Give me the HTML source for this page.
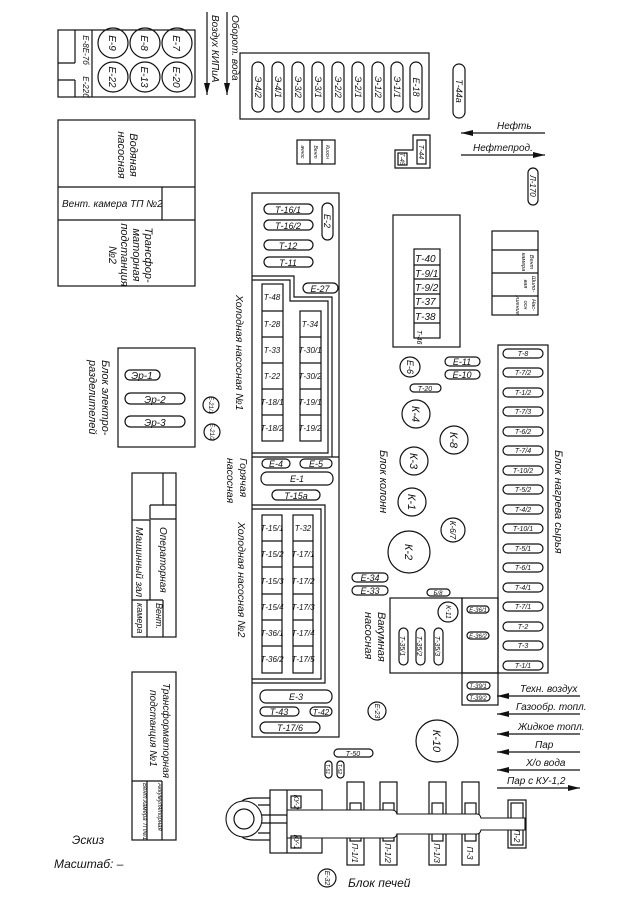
<!DOCTYPE html>
<html><head><meta charset="utf-8"><style>
html,body{margin:0;padding:0;background:#fff}
svg{display:block}
text{font-family:"Liberation Sans",sans-serif;font-style:italic;fill:#111}
.s{fill:none;stroke:#111;stroke-width:1.2}
.c{fill:#fff;stroke:#111;stroke-width:1.1}
</style></head><body>
<svg width="635" height="898" viewBox="0 0 635 898" xmlns="http://www.w3.org/2000/svg">
<defs><marker id="ah" markerWidth="12" markerHeight="6" refX="12" refY="3" orient="auto" markerUnits="userSpaceOnUse"><path d="M0,0 L12,3 L0,6 Z" fill="#111"/></marker></defs>

<rect class="s" x="58" y="30" width="137" height="67"/>
<line class="s" x1="75" y1="30" x2="75" y2="63"/><line class="s" x1="58" y1="63" x2="75" y2="63"/>
<line class="s" x1="75" y1="80" x2="75" y2="97"/><line class="s" x1="58" y1="80" x2="75" y2="80"/>
<line class="s" x1="92" y1="30" x2="92" y2="97"/>
<text font-size="8" transform="rotate(90 83 50)" x="83" y="50" text-anchor="middle">Е-8Е-7б</text>
<text font-size="8" transform="rotate(90 83 87)" x="83" y="87" text-anchor="middle">Е-22б</text>
<g font-size="10" text-anchor="middle">
<circle class="s" cx="113" cy="43" r="15"/><text transform="rotate(90 113 43)" x="113" y="47">Е-9</text>
<circle class="s" cx="145" cy="43" r="15"/><text transform="rotate(90 145 43)" x="145" y="47">Е-8</text>
<circle class="s" cx="177" cy="43" r="15"/><text transform="rotate(90 177 43)" x="177" y="47">Е-7</text>
<circle class="s" cx="113" cy="77" r="15"/><text transform="rotate(90 113 77)" x="113" y="81">Е-22</text>
<circle class="s" cx="145" cy="77" r="15"/><text transform="rotate(90 145 77)" x="145" y="81">Е-13</text>
<circle class="s" cx="177" cy="77" r="15"/><text transform="rotate(90 177 77)" x="177" y="81">Е-20</text>
</g>
<line class="s" x1="207" y1="12" x2="207" y2="95" marker-end="url(#ah)"/>
<line class="s" x1="227" y1="12" x2="227" y2="95" marker-end="url(#ah)"/>
<text font-size="10" transform="rotate(90 212 15)" x="212" y="15">Воздух КИПиА</text>
<text font-size="10" transform="rotate(90 232 15)" x="232" y="15">Оборот. вода</text>

<rect class="s" x="58" y="120" width="137" height="166"/>
<line class="s" x1="58" y1="187" x2="195" y2="187"/><line class="s" x1="58" y1="220" x2="195" y2="220"/>
<line class="s" x1="162" y1="187" x2="162" y2="220"/>
<text font-size="10" x="62" y="207">Вент. камера ТП №2</text>
<g font-size="11" text-anchor="middle">
<text transform="rotate(90 130 155)" x="130" y="155">Водяная</text>
<text transform="rotate(90 118 155)" x="118" y="155">насосная</text>
<text transform="rotate(90 145 255)" x="145" y="255">Трансфор-</text>
<text transform="rotate(90 133 255)" x="133" y="255">маторная</text>
<text transform="rotate(90 121 255)" x="121" y="255">подстанция</text>
<text transform="rotate(90 109 255)" x="109" y="255">№2</text>
</g>

<rect class="s" x="240" y="53" width="189" height="66"/>
<g font-size="9" text-anchor="middle">
<rect class="s" x="252" y="62" width="12" height="50" rx="6"/><text transform="rotate(90 258 87)" x="258" y="90">Э-4/2</text>
<rect class="s" x="272" y="62" width="12" height="50" rx="6"/><text transform="rotate(90 278 87)" x="278" y="90">Э-4/1</text>
<rect class="s" x="292" y="62" width="12" height="50" rx="6"/><text transform="rotate(90 298 87)" x="298" y="90">Э-3/2</text>
<rect class="s" x="312" y="62" width="12" height="50" rx="6"/><text transform="rotate(90 318 87)" x="318" y="90">Э-3/1</text>
<rect class="s" x="332" y="62" width="12" height="50" rx="6"/><text transform="rotate(90 338 87)" x="338" y="90">Э-2/2</text>
<rect class="s" x="352" y="62" width="12" height="50" rx="6"/><text transform="rotate(90 358 87)" x="358" y="90">Э-2/1</text>
<rect class="s" x="372" y="62" width="12" height="50" rx="6"/><text transform="rotate(90 378 87)" x="378" y="90">Э-1/2</text>
<rect class="s" x="391" y="62" width="12" height="50" rx="6"/><text transform="rotate(90 397 87)" x="397" y="90">Э-1/1</text>
<rect class="s" x="410" y="62" width="12" height="50" rx="6"/><text transform="rotate(90 416 87)" x="416" y="90">Е-18</text>
<rect class="s" x="453" y="64" width="12" height="54" rx="6"/><text transform="rotate(90 459 91)" x="459" y="94">Т-44а</text>
<rect class="s" x="528" y="168" width="10" height="37" rx="5"/><text font-size="8" transform="rotate(90 533 186)" x="533" y="189">Л-170</text>
</g>
<rect class="s" x="297" y="140" width="38" height="24"/>
<line class="s" x1="310" y1="140" x2="310" y2="164"/><line class="s" x1="322" y1="140" x2="322" y2="164"/>
<g font-size="5" text-anchor="middle">
<text transform="rotate(90 303 152)" x="303" y="154">ачнос</text>
<text transform="rotate(90 316 152)" x="316" y="154">Вент</text>
<text transform="rotate(90 328 152)" x="328" y="154">Киосн</text>
</g>
<path class="s" d="M413,135 H430 V168 H395 V150 H413 Z"/>
<rect class="s" x="417" y="140" width="9" height="24"/>
<rect class="s" x="398" y="153" width="9" height="12"/>
<text font-size="7" transform="rotate(90 421 152)" x="421" y="154" text-anchor="middle">Т-44</text>
<text font-size="6" transform="rotate(90 402 159)" x="402" y="161" text-anchor="middle">Т-45</text>
<line class="s" x1="545" y1="133" x2="461" y2="133" marker-end="url(#ah)"/>
<text font-size="10" x="497" y="129">Нефть</text>
<line class="s" x1="461" y1="155" x2="545" y2="155" marker-end="url(#ah)"/>
<text font-size="10" x="473" y="151">Нефтепрод.</text>

<rect class="s" x="252" y="193" width="87" height="544"/>
<g font-size="9" text-anchor="middle">
<rect class="s" x="264" y="204" width="49" height="10" rx="5"/><text x="288" y="213">Т-16/1</text>
<rect class="s" x="264" y="220" width="49" height="10" rx="5"/><text x="288" y="229">Т-16/2</text>
<rect class="s" x="264" y="240" width="49" height="10" rx="5"/><text x="288" y="249">Т-12</text>
<rect class="s" x="264" y="257" width="49" height="10" rx="5"/><text x="288" y="266">Т-11</text>
<rect class="s" x="322" y="203" width="11" height="37" rx="5.5"/><text transform="rotate(90 327 221)" x="327" y="224">Е-2</text>
<rect class="s" x="303" y="283" width="35" height="10" rx="5"/><text x="320" y="292">Е-27</text>
</g>
<path class="s" d="M252,276 H294 V297 H332 V457"/>
<path class="s" d="M252,280 H290 V301 H328 V453 H252"/>
<line class="s" x1="252" y1="457" x2="339" y2="457"/>
<g font-size="8" text-anchor="middle">
<rect class="s" x="262" y="284" width="21" height="157"/>
<line class="s" x1="262" y1="311" x2="283" y2="311"/><line class="s" x1="262" y1="337" x2="283" y2="337"/><line class="s" x1="262" y1="363" x2="283" y2="363"/><line class="s" x1="262" y1="389" x2="283" y2="389"/><line class="s" x1="262" y1="415" x2="283" y2="415"/>
<text x="272" y="300">Т-48</text><text x="272" y="327">Т-28</text><text x="272" y="353">Т-33</text><text x="272" y="379">Т-22</text><text x="272" y="405">Т-18/1</text><text x="272" y="431">Т-18/2</text>
<rect class="s" x="300" y="311" width="21" height="130"/>
<line class="s" x1="300" y1="337" x2="321" y2="337"/><line class="s" x1="300" y1="363" x2="321" y2="363"/><line class="s" x1="300" y1="389" x2="321" y2="389"/><line class="s" x1="300" y1="415" x2="321" y2="415"/>
<text x="310" y="327">Т-34</text><text x="310" y="353">Т-30/1</text><text x="310" y="379">Т-30/2</text><text x="310" y="405">Т-19/1</text><text x="310" y="431">Т-19/2</text>
</g>
<g font-size="9" text-anchor="middle">
<rect class="s" x="262" y="459" width="28" height="9" rx="4.5"/><text x="276" y="467">Е-4</text>
<rect class="s" x="300" y="459" width="32" height="9" rx="4.5"/><text x="316" y="467">Е-5</text>
<rect class="s" x="261" y="472" width="72" height="13" rx="6"/><text x="297" y="482">Е-1</text>
<rect class="s" x="272" y="490" width="48" height="10" rx="5"/><text x="296" y="499">Т-15а</text>
</g>
<path class="s" d="M252,505 H325 V683 H252"/>
<path class="s" d="M252,509 H321 V679 H252"/>
<g font-size="8" text-anchor="middle">
<rect class="s" x="262" y="515" width="20" height="158"/>
<rect class="s" x="293" y="515" width="20" height="158"/>
<line class="s" x1="262" y1="541" x2="282" y2="541"/><line class="s" x1="262" y1="567" x2="282" y2="567"/><line class="s" x1="262" y1="594" x2="282" y2="594"/><line class="s" x1="262" y1="620" x2="282" y2="620"/><line class="s" x1="262" y1="646" x2="282" y2="646"/>
<line class="s" x1="293" y1="541" x2="313" y2="541"/><line class="s" x1="293" y1="567" x2="313" y2="567"/><line class="s" x1="293" y1="594" x2="313" y2="594"/><line class="s" x1="293" y1="620" x2="313" y2="620"/><line class="s" x1="293" y1="646" x2="313" y2="646"/>
<text x="272" y="531">Т-15/1</text><text x="272" y="557">Т-15/2</text><text x="272" y="584">Т-15/3</text><text x="272" y="610">Т-15/4</text><text x="272" y="636">Т-36/1</text><text x="272" y="662">Т-36/2</text>
<text x="303" y="531">Т-32</text><text x="303" y="557">Т-17/1</text><text x="303" y="584">Т-17/2</text><text x="303" y="610">Т-17/3</text><text x="303" y="636">Т-17/4</text><text x="303" y="662">Т-17/5</text>
</g>
<g font-size="9" text-anchor="middle">
<rect class="s" x="260" y="690" width="72" height="13" rx="6"/><text x="296" y="700">Е-3</text>
<rect class="s" x="260" y="707" width="39" height="9" rx="4.5"/><text x="279" y="715">Т-43</text>
<rect class="s" x="310" y="707" width="22" height="9" rx="4.5"/><text x="321" y="715" font-size="8">Т-42</text>
<rect class="s" x="260" y="722" width="60" height="11" rx="5.5"/><text x="290" y="731">Т-17/6</text>
</g>
<g font-size="10.5">
<text transform="rotate(90 236 295)" x="236" y="295">Холодная насосная №1</text>
<text transform="rotate(90 240 458)" x="240" y="458">Горячая</text>
<text transform="rotate(90 227 458)" x="227" y="458">насосная</text>
<text transform="rotate(90 238 522)" x="238" y="522">Холодная насосная №2</text>
</g>

<rect class="s" x="393" y="215" width="67" height="132"/>
<rect class="s" x="414" y="249" width="26" height="89"/>
<line class="s" x1="414" y1="265" x2="440" y2="265"/><line class="s" x1="414" y1="279" x2="440" y2="279"/><line class="s" x1="414" y1="294" x2="440" y2="294"/><line class="s" x1="414" y1="308" x2="440" y2="308"/><line class="s" x1="414" y1="323" x2="440" y2="323"/>
<g font-size="10"><text x="415" y="262">Т-40</text><text x="415" y="277">Т-9/1</text><text x="415" y="291">Т-9/2</text><text x="415" y="305">Т-37</text><text x="415" y="320">Т-38</text></g>
<text font-size="7" transform="rotate(90 417 330)" x="417" y="330">Т-46</text>
<rect class="s" x="492" y="231" width="46" height="84"/>
<line class="s" x1="492" y1="250" x2="538" y2="250"/><line class="s" x1="492" y1="273" x2="538" y2="273"/><line class="s" x1="492" y1="296" x2="538" y2="296"/>
<g font-size="5.5" text-anchor="middle">
<text transform="rotate(90 530 262)" x="530" y="262">Вент</text><text transform="rotate(90 522 262)" x="522" y="262">камера</text>
<text transform="rotate(90 532 284)" x="532" y="284">Шило-</text><text transform="rotate(90 524 284)" x="524" y="284">вая</text>
<text transform="rotate(90 532 305)" x="532" y="305">Нас-</text><text transform="rotate(90 524 305)" x="524" y="305">осн</text><text transform="rotate(90 516 305)" x="516" y="305">ушение</text>
</g>

<g font-size="9" text-anchor="middle">
<circle class="s" cx="410" cy="367" r="10"/><text transform="rotate(90 410 367)" x="410" y="370">Е-6</text>
<rect class="s" x="445" y="357" width="35" height="9" rx="4.5"/><text x="462" y="365">Е-11</text>
<rect class="s" x="445" y="370" width="35" height="9" rx="4.5"/><text x="462" y="378">Е-10</text>
<rect class="s" x="410" y="384" width="31" height="8" rx="4"/><text x="425" y="391" font-size="7">Т-20</text>
</g>
<g font-size="11" text-anchor="middle">
<circle class="s" cx="416" cy="414" r="14"/><text transform="rotate(90 416 414)" x="416" y="418">К-4</text>
<circle class="s" cx="454" cy="440" r="14"/><text transform="rotate(90 454 440)" x="454" y="444">К-8</text>
<circle class="s" cx="414" cy="461" r="14"/><text transform="rotate(90 414 461)" x="414" y="465">К-3</text>
<circle class="s" cx="412" cy="502" r="14"/><text transform="rotate(90 412 502)" x="412" y="506">К-1</text>
<circle class="s" cx="409" cy="552" r="21"/><text transform="rotate(90 409 552)" x="409" y="556">К-2</text>
<circle class="s" cx="453" cy="530" r="12"/><text font-size="8" transform="rotate(90 453 530)" x="453" y="533">К-6/7</text>
</g>
<text font-size="11" transform="rotate(90 380 450)" x="380" y="450">Блок колонн</text>

<rect class="s" x="498" y="345" width="50" height="328"/>
<g font-size="7" text-anchor="middle">
<rect class="s" x="503" y="349" width="40" height="9" rx="4.5"/><text x="523" y="356">Т-8</text>
<rect class="s" x="503" y="368" width="40" height="9" rx="4.5"/><text x="523" y="375">Т-7/2</text>
<rect class="s" x="503" y="388" width="40" height="9" rx="4.5"/><text x="523" y="395">Т-1/2</text>
<rect class="s" x="503" y="407" width="40" height="9" rx="4.5"/><text x="523" y="414">Т-7/3</text>
<rect class="s" x="503" y="427" width="40" height="9" rx="4.5"/><text x="523" y="434">Т-6/2</text>
<rect class="s" x="503" y="446" width="40" height="9" rx="4.5"/><text x="523" y="453">Т-7/4</text>
<rect class="s" x="503" y="466" width="40" height="9" rx="4.5"/><text x="523" y="473">Т-10/2</text>
<rect class="s" x="503" y="485" width="40" height="9" rx="4.5"/><text x="523" y="492">Т-5/2</text>
<rect class="s" x="503" y="505" width="40" height="9" rx="4.5"/><text x="523" y="512">Т-4/2</text>
<rect class="s" x="503" y="524" width="40" height="9" rx="4.5"/><text x="523" y="531">Т-10/1</text>
<rect class="s" x="503" y="544" width="40" height="9" rx="4.5"/><text x="523" y="551">Т-5/1</text>
<rect class="s" x="503" y="563" width="40" height="9" rx="4.5"/><text x="523" y="570">Т-6/1</text>
<rect class="s" x="503" y="583" width="40" height="9" rx="4.5"/><text x="523" y="590">Т-4/1</text>
<rect class="s" x="503" y="602" width="40" height="9" rx="4.5"/><text x="523" y="609">Т-7/1</text>
<rect class="s" x="503" y="622" width="40" height="9" rx="4.5"/><text x="523" y="629">Т-2</text>
<rect class="s" x="503" y="641" width="40" height="9" rx="4.5"/><text x="523" y="648">Т-3</text>
<rect class="s" x="503" y="661" width="40" height="9" rx="4.5"/><text x="523" y="668">Т-1/1</text>
</g>
<text font-size="11" transform="rotate(90 555 450)" x="555" y="450">Блок нагрева сырья</text>

<g font-size="9" text-anchor="middle">
<rect class="s" x="352" y="573" width="36" height="9" rx="4.5"/><text x="370" y="581">Е-34</text>
<rect class="s" x="352" y="586" width="36" height="9" rx="4.5"/><text x="370" y="594">Е-33</text>
<rect class="s" x="427" y="589" width="23" height="7" rx="3.5"/><text x="438" y="595" font-size="6">Б/8</text>
</g>
<rect class="s" x="390" y="598" width="72" height="75"/>
<rect class="s" x="462" y="598" width="36" height="75"/>
<rect class="s" x="462" y="673" width="36" height="32"/>
<g font-size="7" text-anchor="middle">
<circle class="s" cx="448" cy="612" r="10"/><text transform="rotate(90 448 612)" x="448" y="614">К-11</text>
<rect class="s" x="467" y="606" width="22" height="7" rx="3.5"/><text x="478" y="612" font-size="6">Е-36/1</text>
<rect class="s" x="467" y="632" width="22" height="7" rx="3.5"/><text x="478" y="638" font-size="6">Е-36/2</text>
<rect class="s" x="467" y="682" width="23" height="7" rx="3.5"/><text x="478" y="688" font-size="6">Т-39/1</text>
<rect class="s" x="467" y="694" width="23" height="7" rx="3.5"/><text x="478" y="700" font-size="6">Т-39/2</text>
<rect class="s" x="399" y="628" width="9" height="37" rx="4.5"/><text transform="rotate(90 403 646)" x="403" y="649">Т-35/1</text>
<rect class="s" x="416" y="628" width="9" height="37" rx="4.5"/><text transform="rotate(90 420 646)" x="420" y="649">Т-35/2</text>
<rect class="s" x="434" y="628" width="9" height="37" rx="4.5"/><text transform="rotate(90 438 646)" x="438" y="649">Т-35/3</text>
</g>
<text font-size="11" transform="rotate(90 378 612)" x="378" y="612">Вакумная</text>
<text font-size="11" transform="rotate(90 365 612)" x="365" y="612">насосная</text>

<g font-size="10">
<line class="s" x1="580" y1="696" x2="497" y2="696" marker-end="url(#ah)"/><text x="520" y="692">Техн. воздух</text>
<line class="s" x1="580" y1="714" x2="497" y2="714" marker-end="url(#ah)"/><text x="516" y="710">Газообр. топл.</text>
<line class="s" x1="580" y1="734" x2="497" y2="734" marker-end="url(#ah)"/><text x="518" y="730">Жидкое топл.</text>
<line class="s" x1="580" y1="752" x2="497" y2="752" marker-end="url(#ah)"/><text x="535" y="748">Пар</text>
<line class="s" x1="580" y1="770" x2="497" y2="770" marker-end="url(#ah)"/><text x="526" y="766">Х/о вода</text>
<line class="s" x1="497" y1="788" x2="580" y2="788" marker-end="url(#ah)"/><text x="507" y="784">Пар с КУ-1,2</text>
</g>
<g font-size="9" text-anchor="middle">
<circle class="s" cx="377" cy="711" r="9"/><text font-size="7" transform="rotate(90 377 711)" x="377" y="713">Е-23</text>
<circle class="s" cx="437" cy="741" r="21"/><text font-size="11" transform="rotate(90 437 741)" x="437" y="745">К-10</text>
<rect class="s" x="334" y="749" width="39" height="8" rx="4"/><text x="353" y="756" font-size="7">Т-50</text>
<rect class="s" x="325" y="761" width="7" height="17" rx="3.5"/><text font-size="5" transform="rotate(90 328 769)" x="328" y="771">Т-51</text>
<rect class="s" x="337" y="761" width="7" height="17" rx="3.5"/><text font-size="5" transform="rotate(90 340 769)" x="340" y="771">Т-52</text>
</g>

<path class="s" d="M270,798 H254 Q240,798 240,806 M270,840 H254 Q240,840 240,832"/>
<path class="s" d="M270,805 H258 M270,833 H258"/>
<circle class="c" cx="244" cy="819" r="18"/><circle class="s" cx="244" cy="819" r="10"/>
<rect class="s" x="270" y="790" width="52" height="63"/>
<line class="s" x1="287" y1="790" x2="287" y2="853"/>
<line class="s" x1="262" y1="815" x2="287" y2="815"/><line class="s" x1="262" y1="823" x2="287" y2="823"/>
<rect class="s" x="347" y="782" width="17" height="83"/>
<rect class="s" x="380" y="782" width="17" height="83"/>
<rect class="s" x="429" y="782" width="17" height="83"/>
<rect class="s" x="462" y="782" width="17" height="83"/>
<rect class="s" x="508" y="800" width="18" height="48"/>
<rect class="s" x="511" y="803" width="12" height="42"/>
<rect class="s" x="350" y="803" width="11" height="38"/>
<rect class="s" x="383" y="803" width="11" height="38"/>
<rect class="s" x="432" y="803" width="11" height="38"/>
<rect class="s" x="465" y="803" width="11" height="38"/>
<path class="c" d="M287,810 H392 Q396,810 397,814 H477 Q480,814 481,818 H525 V830 H481 Q480,834 477,834 H397 Q396,838 392,838 H287 Z"/>
<g font-size="7" text-anchor="middle">
<rect class="s" x="291" y="796" width="10" height="12"/><text transform="rotate(90 296 802)" x="296" y="804">КУ-2</text>
<rect class="s" x="291" y="836" width="10" height="12"/><text transform="rotate(90 296 842)" x="296" y="844">КУ-1</text>
<text font-size="8" transform="rotate(90 355 853)" x="355" y="856">П-1/1</text>
<text font-size="8" transform="rotate(90 388 853)" x="388" y="856">П-1/2</text>
<text font-size="8" transform="rotate(90 437 853)" x="437" y="856">П-1/3</text>
<text font-size="8" transform="rotate(90 470 853)" x="470" y="856">П-3</text>
<text font-size="8" transform="rotate(90 517 836)" x="517" y="839">П-2</text>
<circle class="s" cx="327" cy="878" r="9"/><text transform="rotate(90 327 878)" x="327" y="880">Е-32</text>
</g>
<text font-size="12" x="348" y="887">Блок печей</text>

<rect class="s" x="118" y="348" width="77" height="99"/>
<g font-size="10" text-anchor="middle">
<rect class="s" x="125" y="370" width="35" height="10" rx="5"/><text x="142" y="379">Эр-1</text>
<rect class="s" x="125" y="393" width="60" height="11" rx="5.5"/><text x="155" y="403">Эр-2</text>
<rect class="s" x="125" y="416" width="60" height="11" rx="5.5"/><text x="155" y="426">Эр-3</text>
<circle class="s" cx="211" cy="405" r="8"/><text font-size="6" transform="rotate(90 211 405)" x="211" y="407">Е-21/1</text>
<circle class="s" cx="212" cy="432" r="8"/><text font-size="6" transform="rotate(90 212 432)" x="212" y="434">Е-21/2</text>
</g>
<g font-size="11">
<text transform="rotate(90 102 360)" x="102" y="360">Блок электро-</text>
<text transform="rotate(90 89 360)" x="89" y="360">разделителей</text>
</g>
<rect class="s" x="132" y="473" width="44" height="164"/>
<line class="s" x1="150" y1="505" x2="176" y2="505"/><line class="s" x1="163" y1="473" x2="163" y2="505"/>
<line class="s" x1="150" y1="519" x2="176" y2="519"/><line class="s" x1="150" y1="505" x2="150" y2="519"/>
<line class="s" x1="132" y1="520" x2="150" y2="520"/>
<line class="s" x1="150" y1="520" x2="150" y2="600"/>
<line class="s" x1="132" y1="600" x2="163" y2="600"/><line class="s" x1="163" y1="600" x2="163" y2="637"/><line class="s" x1="147" y1="600" x2="147" y2="637"/>
<g font-size="10">
<text transform="rotate(90 160 527)" x="160" y="527">Операторная</text>
<text transform="rotate(90 136 527)" x="136" y="527">Машинный зал</text>
<text font-size="9" transform="rotate(90 156 603)" x="156" y="603">Вент.</text>
<text font-size="9" transform="rotate(90 137 603)" x="137" y="603">камера</text>
</g>
<rect class="s" x="132" y="672" width="44" height="168"/>
<line class="s" x1="132" y1="781" x2="162" y2="781"/><line class="s" x1="162" y1="781" x2="162" y2="840"/><line class="s" x1="147" y1="781" x2="147" y2="840"/>
<g font-size="10">
<text transform="rotate(90 163 683)" x="163" y="683">Трансформаторная</text>
<text transform="rotate(90 150 690)" x="150" y="690">подстанция №1</text>
<text font-size="6" transform="rotate(90 158 783)" x="158" y="783">Аккумуляторная</text>
<text font-size="6" transform="rotate(90 143 783)" x="143" y="783">Вент.камера ТП№1</text>
</g>
<text font-size="12" x="72" y="844">Эскиз</text>
<text font-size="12" x="54" y="868">Масштаб: –</text>
</svg>
</body></html>
